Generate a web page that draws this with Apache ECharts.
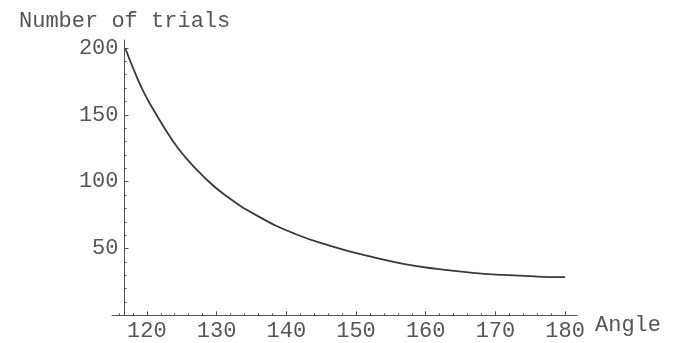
<!DOCTYPE html>
<html>
<head>
<meta charset="utf-8">
<script src="https://cdn.jsdelivr.net/npm/echarts@6/dist/echarts.min.js"></script>
<style>
html,body{margin:0;padding:0;background:#fff;}
#c{width:684px;height:343px;}
</style>
</head>
<body>
<div id="c"></div>
<script>
// Data
const angles = [116.9, 118.1, 119.6, 121.5, 123.4, 125.4, 128.1, 131.2, 136.0, 141.2, 146.3, 152, 156.8, 161.6, 166.4, 171.2, 176, 180];
const trials = [200, 184, 166.5, 149, 133, 119, 104, 90, 74, 61, 52, 44, 38.5, 34.7, 32, 30.2, 29, 28.5];
const xTickLabels = [120, 130, 140, 150, 160, 170, 180];
const yTickLabels = [50, 100, 150, 200];
const xMinorTicks = [116, 118, 122, 124, 126, 128, 132, 134, 136, 138, 142, 144, 146, 148, 152, 154, 156, 158, 162, 164, 166, 168, 172, 174, 176, 178];
const yMinorTicks = [10, 20, 30, 40, 60, 70, 80, 90, 110, 120, 130, 140, 160, 170, 180, 190];

const font = '"Liberation Mono", "DejaVu Sans Mono", monospace';
const axisColor = '#555';
const textColor = '#555';
const xMin = 115, xMax = 181.7, yMin = 0, yMax = 206;
const yAxisOffset = -12.5;

const chart = echarts.init(document.getElementById('c'), null, {renderer: 'canvas'});
chart.setOption({
  animation: false,
  backgroundColor: '#fff',
  title: [
    {text: 'Number of trials', left: 14, top: 5,
     textStyle: {fontFamily: font, fontSize: 22, fontWeight: 'normal', color: textColor}},
    {text: 'Angle', left: 590, top: 309,
     textStyle: {fontFamily: font, fontSize: 22, fontWeight: 'normal', color: textColor}}
  ],
  grid: {left: 112, right: 107, top: 40, bottom: 27.7, containLabel: false},
  xAxis: [
    {type: 'value', min: xMin, max: xMax,
     axisLine: {show: true, lineStyle: {color: axisColor, width: 1}},
     axisTick: {show: true, inside: true, length: 4, customValues: xTickLabels, lineStyle: {color: axisColor}},
     axisLabel: {show: true, customValues: xTickLabels, margin: 5, fontFamily: font, fontSize: 22, color: textColor},
     splitLine: {show: false}},
    {type: 'value', min: xMin, max: xMax, position: 'bottom',
     axisLine: {show: false},
     axisTick: {show: true, inside: true, length: 2, customValues: xMinorTicks, lineStyle: {color: axisColor}},
     axisLabel: {show: false},
     splitLine: {show: false}}
  ],
  yAxis: [
    {type: 'value', min: yMin, max: yMax, offset: yAxisOffset,
     axisLine: {show: true, lineStyle: {color: axisColor, width: 1}},
     axisTick: {show: true, inside: true, length: 4, customValues: yTickLabels, lineStyle: {color: axisColor}},
     axisLabel: {show: true, customValues: yTickLabels, margin: 6, fontFamily: font, fontSize: 22, color: textColor},
     splitLine: {show: false}},
    {type: 'value', min: yMin, max: yMax, offset: yAxisOffset, position: 'left',
     axisLine: {show: false},
     axisTick: {show: true, inside: true, length: 2, customValues: yMinorTicks, lineStyle: {color: axisColor}},
     axisLabel: {show: false},
     splitLine: {show: false}}
  ],
  series: [{
    type: 'line',
    data: angles.map((a, i) => [a, trials[i]]),
    smooth: 0.5,
    showSymbol: false,
    lineStyle: {color: '#3a3a3a', width: 1.8}
  }]
});
</script>
</body>
</html>
